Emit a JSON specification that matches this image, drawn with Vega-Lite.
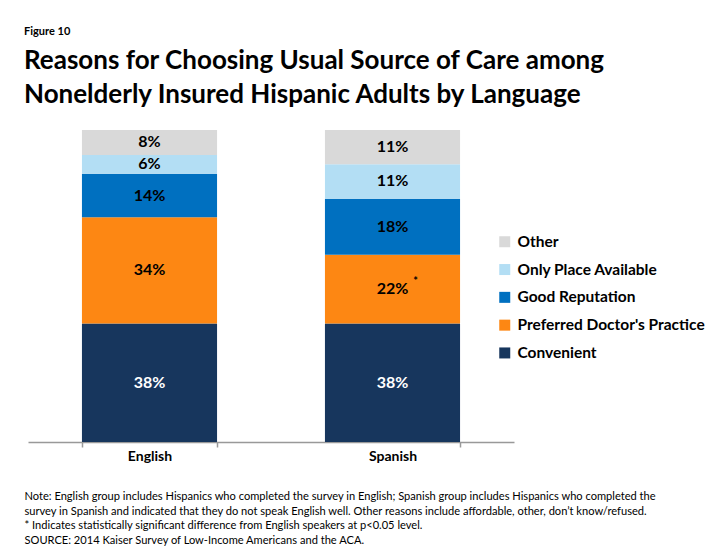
{
  "$schema": "https://vega.github.io/schema/vega-lite/v6.json",
  "autosize": "none",
  "width": 486,
  "height": 312,
  "padding": {"left": 28, "top": 130, "right": 207, "bottom": 104},
  "background": "white",
  "config": {"font": "Lato", "view": {"stroke": null}},
  "title": {
    "text": "Figure 10",
    "subtitle": ["Reasons for Choosing Usual Source of Care among", "Nonelderly Insured Hispanic Adults by Language"],
    "anchor": "start",
    "frame": "group",
    "dx": -4,
    "font": "Lato",
    "fontSize": 11,
    "fontWeight": "bold",
    "color": "#000000",
    "subtitleFont": "Lato",
    "subtitleFontSize": 26,
    "subtitleFontWeight": "bold",
    "subtitleColor": "#000000",
    "subtitleLineHeight": 34,
    "subtitlePadding": 11,
    "offset": 22
  },
  "data": {
    "values": [
      {"language": "English", "reason": "Convenient", "value": 0.38, "order": 1, "sig": ""},
      {"language": "English", "reason": "Preferred Doctor's Practice", "value": 0.34, "order": 2, "sig": ""},
      {"language": "English", "reason": "Good Reputation", "value": 0.14, "order": 3, "sig": ""},
      {"language": "English", "reason": "Only Place Available", "value": 0.06, "order": 4, "sig": ""},
      {"language": "English", "reason": "Other", "value": 0.08, "order": 5, "sig": ""},
      {"language": "Spanish", "reason": "Convenient", "value": 0.38, "order": 1, "sig": ""},
      {"language": "Spanish", "reason": "Preferred Doctor's Practice", "value": 0.22, "order": 2, "sig": "*"},
      {"language": "Spanish", "reason": "Good Reputation", "value": 0.18, "order": 3, "sig": ""},
      {"language": "Spanish", "reason": "Only Place Available", "value": 0.11, "order": 4, "sig": ""},
      {"language": "Spanish", "reason": "Other", "value": 0.11, "order": 5, "sig": ""}
    ]
  },
  "transform": [
    {"stack": "value", "groupby": ["language"], "sort": [{"field": "order", "order": "ascending"}], "as": ["v0", "v1"]},
    {"calculate": "(datum.v0 + datum.v1) / 2", "as": "mid"}
  ],
  "encoding": {
    "x": {
      "field": "language",
      "type": "nominal",
      "sort": ["English", "Spanish"],
      "scale": {"paddingInner": 0.444, "paddingOuter": 0.222},
      "axis": {
        "title": [
          "Note: English group includes Hispanics who completed the survey in English; Spanish group includes Hispanics who completed the",
          "survey in Spanish and indicated that they do not speak English well. Other reasons include affordable, other, don’t know/refused.",
          "* Indicates statistically significant difference from English speakers at p<0.05 level.",
          "SOURCE: 2014 Kaiser Survey of Low-Income Americans and the ACA."
        ],
        "titleX": -4,
        "titleY": 57.5,
        "titleAlign": "left",
        "titleAnchor": "start",
        "titleBaseline": "alphabetic",
        "titleFont": "Lato",
        "titleFontSize": 11.1,
        "titleFontWeight": "normal",
        "titleLineHeight": 14.7,
        "titleColor": "#000000",
        "labelAngle": 0,
        "labelFont": "Lato",
        "labelFontSize": 14,
        "labelFontWeight": "bold",
        "labelColor": "#000000",
        "labelPadding": 2,
        "domainColor": "#999999",
        "domainWidth": 1.5,
        "tickColor": "#999999",
        "tickSize": 5,
        "tickWidth": 1.5,
        "tickBand": "extent"
      }
    }
  },
  "layer": [
    {
      "mark": {"type": "bar"},
      "encoding": {
        "y": {"field": "v1", "type": "quantitative", "scale": {"domain": [0, 1]}, "axis": null},
        "y2": {"field": "v0"},
        "color": {
          "field": "reason",
          "type": "nominal",
          "scale": {
            "domain": ["Other", "Only Place Available", "Good Reputation", "Preferred Doctor's Practice", "Convenient"],
            "range": ["#d9d9d9", "#b3def4", "#0070c0", "#fd8713", "#17365d"]
          },
          "legend": {
            "orient": "none",
            "legendX": 469,
            "legendY": 104,
            "title": null,
            "symbolType": "square",
            "symbolSize": 121,
            "symbolStrokeWidth": 0,
            "labelFont": "Lato",
            "labelFontSize": 15.5,
            "labelFontWeight": "bold",
            "labelColor": "#000000",
            "labelLimit": 300,
            "rowPadding": 10.8,
            "labelOffset": 5
          }
        }
      }
    },
    {
      "mark": {"type": "text", "font": "Lato", "fontSize": 16, "fontWeight": "bold", "baseline": "middle", "align": "center"},
      "encoding": {
        "y": {"field": "mid", "type": "quantitative", "scale": {"domain": [0, 1]}},
        "text": {"field": "value", "type": "quantitative", "format": ".0%"},
        "color": {"condition": {"test": "datum.reason === 'Convenient'", "value": "#ffffff"}, "value": "#000000"}
      }
    },
    {
      "transform": [{"filter": "datum.sig !== ''"}],
      "mark": {"type": "text", "font": "Lato", "fontSize": 11, "fontWeight": "bold", "baseline": "middle", "align": "center", "dx": 23, "dy": -7, "color": "#000000"},
      "encoding": {
        "y": {"field": "mid", "type": "quantitative", "scale": {"domain": [0, 1]}},
        "text": {"field": "sig"}
      }
    }
  ]
}
